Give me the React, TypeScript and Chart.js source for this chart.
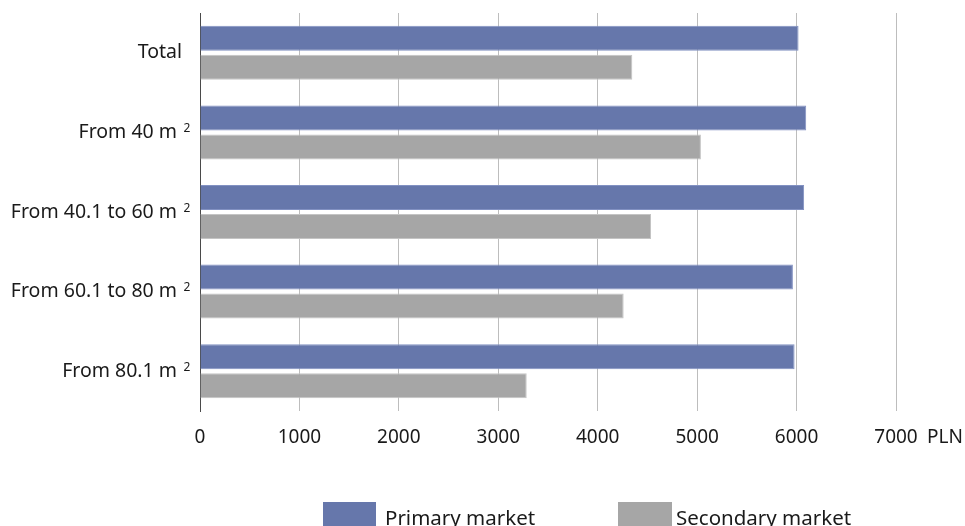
import React, { useEffect, useRef } from 'react';
import { Chart, registerables } from 'chart.js';

Chart.register(...registerables);

const categories = ['Total', 'From 40 m²', 'From 40.1 to 60 m²', 'From 60.1 to 80 m²', 'From 80.1 m²'];
const primaryMarket = [6020, 6097, 6076, 5963, 5980];
const secondaryMarket = [4348, 5038, 4536, 4261, 3286];
const seriesNames = ['Primary market', 'Secondary market'];
const xMin = 0;
const xMax = 7000;
const xStep = 1000;
const unitLabel = 'PLN';

const PRIMARY = '#6677ab';
const SECONDARY = '#a6a6a6';
const TEXT = '#1a1a1a';
const FONT = '"Noto Sans", "Open Sans", sans-serif';

const labelPlugin = {
  id: 'customLabels',
  afterDraw(chart: any) {
    const ctx = chart.ctx;
    const ys = chart.scales.y;
    const xs = chart.scales.x;
    ctx.save();
    ctx.fillStyle = TEXT;
    // category labels with superscript
    (chart.data.labels as string[]).forEach((lab, i) => {
      const py = ys.getPixelForValue(i);
      const sup = lab.endsWith('²');
      const main = sup ? lab.slice(0, -1) : lab;
      ctx.font = `19.5px ${FONT}`;
      ctx.textAlign = 'right';
      ctx.textBaseline = 'middle';
      if (sup) {
        ctx.fillText(main, ys.right - 23, py);
        ctx.font = `12px ${FONT}`;
        ctx.textAlign = 'left';
        ctx.textBaseline = 'alphabetic';
        ctx.fillText('2', ys.right - 16.5, py - 0.5);
      } else {
        ctx.fillText(main, ys.right - 18, py);
      }
    });
    // unit label after last tick
    ctx.font = `19px ${FONT}`;
    ctx.textAlign = 'left';
    ctx.textBaseline = 'middle';
    ctx.fillText(unitLabel, xs.getPixelForValue(xMax) + 31, chart.chartArea.bottom + 15 + 11.4);
    // legend
    const items = chart.data.datasets.map((d: any) => ({ text: d.label, color: d.backgroundColor }));
    const boxes = [
      { bx: 323, bw: 53, tx: 385 },
      { bx: 618, bw: 54, tx: 676 },
    ];
    items.forEach((it: any, i: number) => {
      const b = boxes[i];
      ctx.fillStyle = it.color;
      ctx.fillRect(b.bx, 502, b.bw, 30);
      ctx.fillStyle = TEXT;
      ctx.font = `20.5px ${FONT}`;
      ctx.textAlign = 'left';
      ctx.textBaseline = 'alphabetic';
      ctx.fillText(it.text, b.tx, 525);
    });
    ctx.restore();
  },
};

export default function App() {
  const ref = useRef<HTMLCanvasElement>(null);
  useEffect(() => {
    if (!ref.current) return;
    const chart = new Chart(ref.current, {
      type: 'bar',
      data: {
        labels: categories,
        datasets: [
          {
            label: seriesNames[0],
            data: primaryMarket,
            backgroundColor: PRIMARY,
            borderColor: '#8291c2',
            borderWidth: 1,
            categoryPercentage: 0.729,
            barPercentage: 0.862,
          },
          {
            label: seriesNames[1],
            data: secondaryMarket,
            backgroundColor: SECONDARY,
            borderColor: '#c4c4c4',
            borderWidth: 1,
            categoryPercentage: 0.729,
            barPercentage: 0.862,
          },
        ],
      },
      options: {
        indexAxis: 'y',
        responsive: false,
        animation: false,
        layout: { padding: { top: 13, right: 69, left: 0, bottom: 0 } },
        plugins: {
          legend: { display: false },
          tooltip: { enabled: false },
          title: { display: false },
        },
        scales: {
          x: {
            type: 'linear',
            min: xMin,
            max: xMax,
            ticks: {
              stepSize: xStep,
              color: TEXT,
              font: { family: FONT, size: 19 },
              padding: 15,
              maxRotation: 0,
              callback: (v: any) => String(v),
            },
            grid: { color: '#bdbdbd', lineWidth: 1, drawTicks: false },
            border: { display: false },
            afterFit: (s: any) => {
              s.height = 115;
            },
          },
          y: {
            type: 'category',
            ticks: { display: false },
            grid: { display: false },
            border: { display: true, color: '#4a4a4a', width: 1 },
            afterFit: (s: any) => {
              s.width = 200;
            },
          },
        },
      },
      plugins: [labelPlugin],
    });
    return () => chart.destroy();
  }, []);
  return (
    <div style={{ position: 'fixed', left: 0, top: 0, width: 965, height: 526, overflow: 'hidden', background: '#fff' }}>
      <canvas ref={ref} width={965} height={526} style={{ display: 'block' }} />
    </div>
  );
}
